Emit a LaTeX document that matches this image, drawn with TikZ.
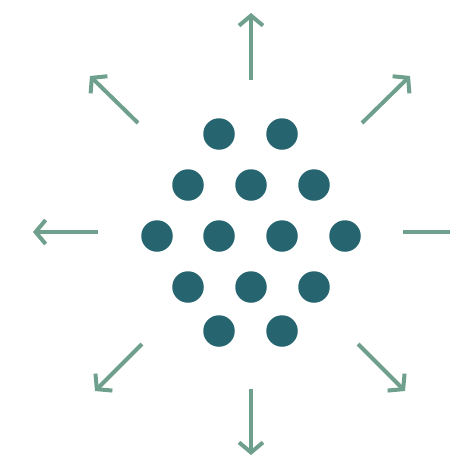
\documentclass[tikz,border=0pt]{standalone}
\usetikzlibrary{arrows.meta}
\definecolor{dotc}{HTML}{266570}
\definecolor{arrc}{HTML}{6FA08E}
\begin{document}
\begin{tikzpicture}[x=1pt,y=-1pt,
  dotn/.style={circle,fill=dotc,inner sep=0pt,minimum size=31.5pt},
  ray/.style={draw=arrc,line width=4pt,-{Straight Barb[length=10pt,width=24pt,line width=4pt]}},
  rayplain/.style={draw=arrc,line width=4pt}]
\useasboundingbox (0,0) rectangle (450,458);
% dots
\node[dotn] (d11) at (219,134) {};
\node[dotn] (d12) at (282,134) {};
\node[dotn] (d21) at (188,185) {};
\node[dotn] (d22) at (251,185) {};
\node[dotn] (d23) at (314,185) {};
\node[dotn] (d31) at (157,236) {};
\node[dotn] (d32) at (219,236) {};
\node[dotn] (d33) at (282,236) {};
\node[dotn] (d34) at (345,236) {};
\node[dotn] (d41) at (188,287) {};
\node[dotn] (d42) at (251,287) {};
\node[dotn] (d43) at (314,287) {};
\node[dotn] (d51) at (219,331) {};
\node[dotn] (d52) at (282,331) {};
% ray endpoints
\coordinate (us) at (251,80);  \coordinate (ue) at (251,13);
\coordinate (ds) at (251,389); \coordinate (de) at (251,455);
\coordinate (ls) at (98,232);  \coordinate (le) at (33,232);
\coordinate (rs) at (403,232); \coordinate (re) at (450,232);
\coordinate (uls) at (138,123); \coordinate (ule) at (90,76);
\coordinate (urs) at (362,123); \coordinate (ure) at (410,76);
\coordinate (dls) at (142,344); \coordinate (dle) at (95,391);
\coordinate (drs) at (358,344); \coordinate (dre) at (405,391);
\draw[ray] (us) -- (ue);
\draw[ray] (ds) -- (de);
\draw[ray] (ls) -- (le);
\draw[rayplain] (rs) -- (re);
\draw[ray] (uls) -- (ule);
\draw[ray] (urs) -- (ure);
\draw[ray] (dls) -- (dle);
\draw[ray] (drs) -- (dre);
\end{tikzpicture}
\end{document}
